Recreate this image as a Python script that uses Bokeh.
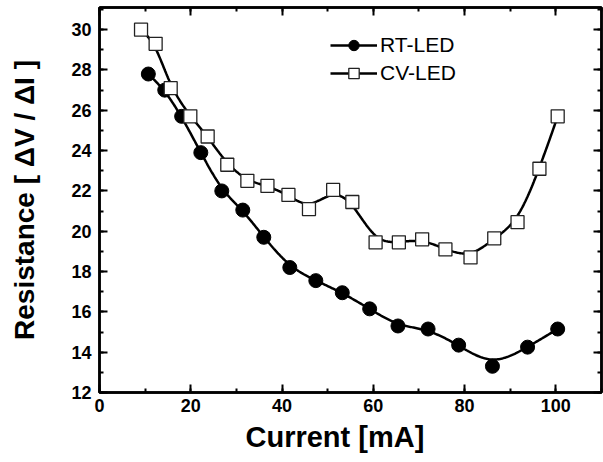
import numpy as np
from bokeh.plotting import figure
from bokeh.models import Range1d, LinearAxis, Legend, LegendItem, SingleIntervalTicker, Title
from bokeh.embed import file_html
from bokeh.resources import INLINE

# ---- data ----
rt_x = [10.7, 14.3, 18.0, 22.2, 26.8, 31.4, 36.0, 41.7, 47.4, 53.2, 59.2, 65.4, 72.0, 78.7, 86.1, 93.8, 100.4]
rt_y = [27.8, 27.0, 25.7, 23.9, 22.0, 21.05, 19.7, 18.2, 17.55, 16.95, 16.15, 15.3, 15.15, 14.35, 13.3, 14.25, 15.15]

cv_x = [9.1, 12.3, 15.6, 19.9, 23.7, 28.0, 32.4, 36.8, 41.4, 45.9, 51.2, 55.4, 60.5, 65.6, 70.7, 75.8, 81.3, 86.5, 91.6, 96.4, 100.4]
cv_y = [30.0, 29.3, 27.1, 25.7, 24.7, 23.3, 22.5, 22.25, 21.8, 21.1, 22.05, 21.45, 19.45, 19.45, 19.6, 19.1, 18.7, 19.65, 20.45, 23.1, 25.7]

x_ticks = [0, 20, 40, 60, 80, 100]
y_ticks = [12, 14, 16, 18, 20, 22, 24, 26, 28, 30]

x_title = "Current [mA]"
y_title = "Resistance [ \u0394V / \u0394I ]"

FONT = "Liberation Sans"


def bspline(xs, ys, n=30):
    """Clamped uniform cubic B-spline using the data points as control points."""
    px = np.array([xs[0]] * 2 + list(xs) + [xs[-1]] * 2, dtype=float)
    py = np.array([ys[0]] * 2 + list(ys) + [ys[-1]] * 2, dtype=float)
    t = np.linspace(0, 1, n)
    b0 = (1 - t) ** 3 / 6
    b1 = (3 * t ** 3 - 6 * t ** 2 + 4) / 6
    b2 = (-3 * t ** 3 + 3 * t ** 2 + 3 * t + 1) / 6
    b3 = t ** 3 / 6
    ox, oy = [], []
    for i in range(len(px) - 3):
        ox.extend(b0 * px[i] + b1 * px[i + 1] + b2 * px[i + 2] + b3 * px[i + 3])
        oy.extend(b0 * py[i] + b1 * py[i + 1] + b2 * py[i + 2] + b3 * py[i + 3])
    return ox, oy


p = figure(width=603, height=462, output_backend="svg", toolbar_location=None,
           x_range=Range1d(0, 110), y_range=Range1d(12, 31.1),
           min_border_left=99, min_border_right=2, min_border_top=7, min_border_bottom=70)
p.background_fill_color = "white"
p.border_fill_color = "white"
p.xgrid.visible = False
p.ygrid.visible = False
p.outline_line_color = "black"
p.outline_line_width = 2.5

# curves
rsx, rsy = bspline(rt_x, rt_y)
csx, csy = bspline(cv_x, cv_y)
l_rt = p.line(rsx, rsy, line_color="black", line_width=2.5)
l_cv = p.line(csx, csy, line_color="black", line_width=2.5)
s_rt = p.scatter(rt_x, rt_y, marker="circle", size=14, fill_color="black", line_color="black")
s_cv = p.scatter(cv_x, cv_y, marker="square", size=13, fill_color="white", line_color="#222222", line_width=1.3)

xt = SingleIntervalTicker(interval=20, num_minor_ticks=2)
yt = SingleIntervalTicker(interval=2, num_minor_ticks=2)


def style_axis(ax, labels=True):
    ax.axis_line_width = 2.5
    ax.axis_line_color = "black"
    ax.major_tick_in = 8
    ax.major_tick_out = 0
    ax.minor_tick_in = 4
    ax.minor_tick_out = 0
    ax.major_tick_line_width = 2
    ax.minor_tick_line_width = 2
    ax.major_tick_line_color = "black"
    ax.minor_tick_line_color = "black"
    if labels:
        ax.major_label_text_font = FONT
        ax.major_label_text_font_style = "bold"
        ax.major_label_text_font_size = "18px"
        ax.major_label_text_color = "black"
        ax.axis_label_text_font = FONT
        ax.axis_label_text_font_style = "bold"
        ax.axis_label_text_font_size = "28px"
        ax.axis_label_text_color = "black"
    else:
        ax.major_label_text_font_size = "0px"
        ax.major_label_text_color = None


p.xaxis.ticker = xt
p.yaxis.ticker = yt
style_axis(p.xaxis[0])
style_axis(p.yaxis[0])
p.xaxis.major_label_standoff = 6
p.yaxis.major_label_standoff = 8
p.yaxis.axis_label = y_title
p.yaxis.axis_label_standoff = 28

top = LinearAxis(ticker=SingleIntervalTicker(interval=20, num_minor_ticks=2))
right = LinearAxis(ticker=SingleIntervalTicker(interval=2, num_minor_ticks=2))
style_axis(top, labels=False)
style_axis(right, labels=False)
p.add_layout(top, "above")
p.add_layout(right, "right")

# x title, offset to the left like the original (not centred on the frame)
p.add_layout(Title(text=x_title, align="left", offset=146, standoff=9,
                   text_font=FONT, text_font_style="bold", text_font_size="29px",
                   text_color="black"), "below")

legend = Legend(items=[LegendItem(label="RT-LED", renderers=[l_rt, s_rt]),
                       LegendItem(label="CV-LED", renderers=[l_cv, s_cv])],
                location=(231, 306), orientation="vertical")
legend.border_line_color = None
legend.background_fill_alpha = 0
legend.padding = 0
legend.margin = 0
legend.spacing = 2
legend.glyph_width = 47
legend.glyph_height = 26
legend.label_height = 26
legend.label_standoff = 3
legend.label_text_font = FONT
legend.label_text_font_size = "21px"
legend.label_text_color = "black"
legend.label_text_baseline = "middle"
p.add_layout(legend, "center")

open("out.html", "w").write(file_html(p, INLINE))
